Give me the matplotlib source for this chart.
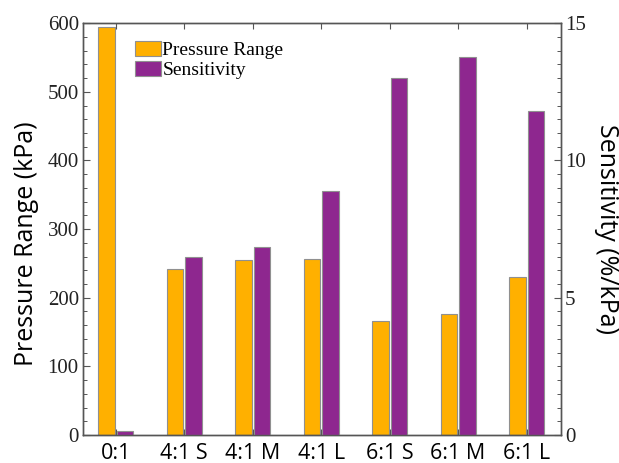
import matplotlib
matplotlib.use('Agg')
from matplotlib import pyplot as plt
from matplotlib.ticker import MultipleLocator
import numpy as np

categories = ['0:1', '4:1 S', '4:1 M', '4:1 L', '6:1 S', '6:1 M', '6:1 L']
pressure_range = [594, 242, 255, 257, 166, 176, 230]
sensitivity = [0.16, 6.5, 6.85, 8.9, 13.0, 13.75, 11.8]

orange = '#FFB000'
purple = '#8E278F'
edge = '#909090'
serif = ['Liberation Serif', 'DejaVu Serif']
sans = ['Open Sans', 'DejaVu Sans']

fig = plt.figure(figsize=(6.19, 4.63), dpi=100)
ax = fig.add_axes([0.134, 0.0605, 0.772, 0.8895])
ax2 = ax.twinx()

x = np.arange(len(categories))
w = 0.24
b1 = ax.bar(x - 0.135, pressure_range, w, color=orange, edgecolor=edge, linewidth=0.8, label='Pressure Range')
b2 = ax2.bar(x + 0.135, sensitivity, w, color=purple, edgecolor=edge, linewidth=0.8, label='Sensitivity')

ax.set_xlim(-0.48, 6.5)
ax.set_ylim(0, 600)
ax2.set_ylim(0, 15)

ax.yaxis.set_major_locator(MultipleLocator(100))
ax.yaxis.set_minor_locator(MultipleLocator(20))
ax2.yaxis.set_major_locator(MultipleLocator(5))
ax2.yaxis.set_minor_locator(MultipleLocator(0.5))

ax.set_xticks(x)
ax.set_xticklabels(categories, family=sans, fontsize=15.5)
ax.tick_params(axis='x', direction='in', top=True, length=4, width=0.8, color='#555555', pad=6)
ax.tick_params(axis='y', which='major', direction='in', length=5, width=0.8, color='#555555', labelsize=15, pad=3)
ax.tick_params(axis='y', which='minor', direction='in', length=3, width=0.7, color='#555555')
ax2.tick_params(axis='y', which='major', direction='in', length=5, width=0.8, color='#555555', labelsize=15, pad=3)
ax2.tick_params(axis='y', which='minor', direction='in', length=3, width=0.7, color='#555555')
for lab in ax.get_yticklabels() + ax2.get_yticklabels():
    lab.set_family(serif)
    lab.set_color('#222222')

for a in (ax, ax2):
    for s in a.spines.values():
        s.set_color('#555555')
        s.set_linewidth(1.0)

ax.set_ylabel('Pressure Range (kPa)', family=sans, fontsize=18)
ax.yaxis.set_label_coords(-0.093, 0.465)
ax2.set_ylabel('Sensitivity (%/kPa)', family=sans, fontsize=18, rotation=270, labelpad=24)

ax.legend([b1, b2], ['Pressure Range', 'Sensitivity'], loc='upper left', bbox_to_anchor=(0.085, 0.985),
          frameon=False, prop={'family': serif, 'size': 14}, handlelength=1.3, handleheight=0.8,
          handletextpad=0.1, labelspacing=0.1, borderaxespad=0.2)

plt.savefig('out.png', dpi=100)
